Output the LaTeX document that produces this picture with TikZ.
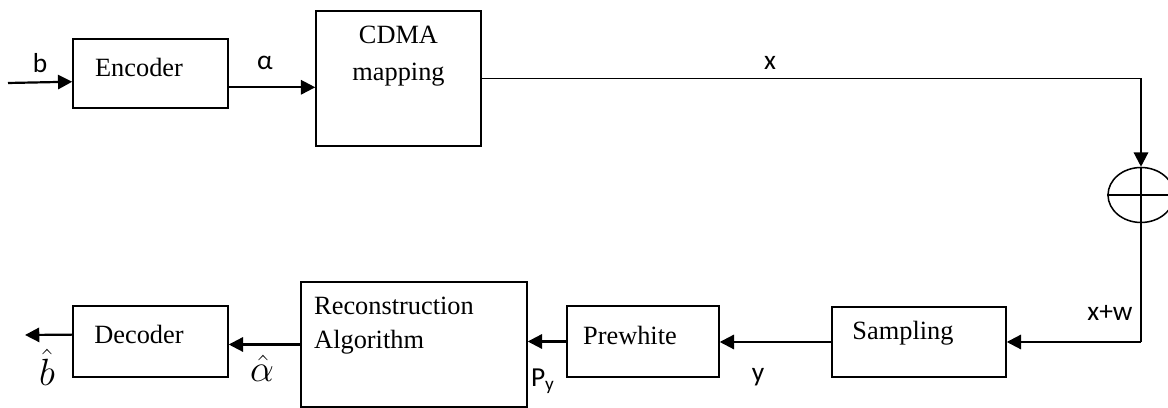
\documentclass[tikz,border=0pt]{standalone}
\usepackage{fontspec}
\setmainfont{Liberation Serif}
\newfontfamily\lblfont{Carlito}
\usetikzlibrary{arrows.meta,shapes.geometric}

\begin{document}
\begin{tikzpicture}[x=0.016cm,y=-0.016cm,
    blk/.style={draw,line width=0.7pt,inner sep=0pt},
    txt/.style={font=\fontsize{12}{15.4}\selectfont},
    arr/.style={line width=1pt,-{Triangle[length=6.5pt,width=6.5pt]}},
    wire/.style={line width=0.6pt},
    lbl/.style={font=\lblfont\fontsize{12.5}{14}\selectfont},
    hat/.style={font=\fontsize{16}{18}\selectfont,inner sep=1pt}]
    \useasboundingbox (0,0) rectangle (1168,408);

    % top row
    \node[blk,minimum width=2.48cm,minimum height=1.104cm,
        label={[txt,shift={(-11.5,-6.5)}]center:Encoder}] (enc) at (150.5,73.5) {};
    \node[blk,minimum width=2.64cm,minimum height=2.16cm,
        label={[txt,align=center,shift={(0,-22.5)}]center:{CDMA\\[1.4pt]mapping}}] (cdma) at (398.5,78.5) {};

    % adder
    \node[draw,ellipse,line width=0.7pt,minimum width=1.056cm,minimum height=0.88cm,inner sep=0pt] (sum) at (1141,195) {};
    \draw[line width=0.7pt] (sum.north) -- (sum.south) (sum.west) -- (sum.east);

    % bottom row
    \node[blk,minimum width=2.784cm,minimum height=1.12cm,
        label={[txt,shift={(-16,-9)}]center:Sampling}] (samp) at (919,342) {};
    \node[blk,minimum width=2.432cm,minimum height=1.136cm,
        label={[txt,shift={(-13,-6.5)}]center:Prewhite}] (prew) at (643,341.5) {};
    \node[blk,minimum width=3.616cm,minimum height=2cm,
        label={[txt,align=left,shift={(-20,-18.5)}]center:{Reconstruction\\Algorithm}}] (rec) at (414,344.5) {};
    \node[blk,minimum width=2.48cm,minimum height=1.136cm,
        label={[txt,shift={(-11.5,-7.5)}]center:Decoder}] (dec) at (150.5,341.5) {};

    % connectors
    \coordinate (bin) at (8,83);
    \coordinate (bout) at (25,335);
    \draw[arr] (bin) -- (enc.186);
    \draw[arr] (enc.-10) -- (enc.-10 -| cdma.west);
    \draw[wire] (cdma.east) -- (cdma.east -| sum.north);
    \draw[arr] (cdma.east -| sum.north) -- (sum.north);
    \draw[wire] (sum.south) -- (sum.south |- samp.east);
    \draw[arr] (sum.south |- samp.east) -- (samp.east);
    \draw[arr] (samp.west) -- (samp.west -| prew.east);
    \draw[arr] (prew.west) -- (prew.west -| rec.east);
    \draw[arr] (rec.west) -- (rec.west -| dec.east);
    \draw[arr] (dec.175) -- (bout);

    % signal labels
    \node[lbl] (lb) at (40,63) {b};
    \node[lbl] (lalpha) at (265,63) {α};
    \node[lbl] (lx) at (770,63) {x};
    \node[lbl] (lxw) at (1110,313) {x+w};
    \node[lbl] (ly) at (758,377) {y};
    \node[lbl] (lpy) at (543,381) {P\textsubscript{y}};
    \node[hat] (lbhat) at (47,367) {$\hat{b}$};
    \node[hat] (lahat) at (262,368) {$\hat{\alpha}$};
\end{tikzpicture}
\end{document}
